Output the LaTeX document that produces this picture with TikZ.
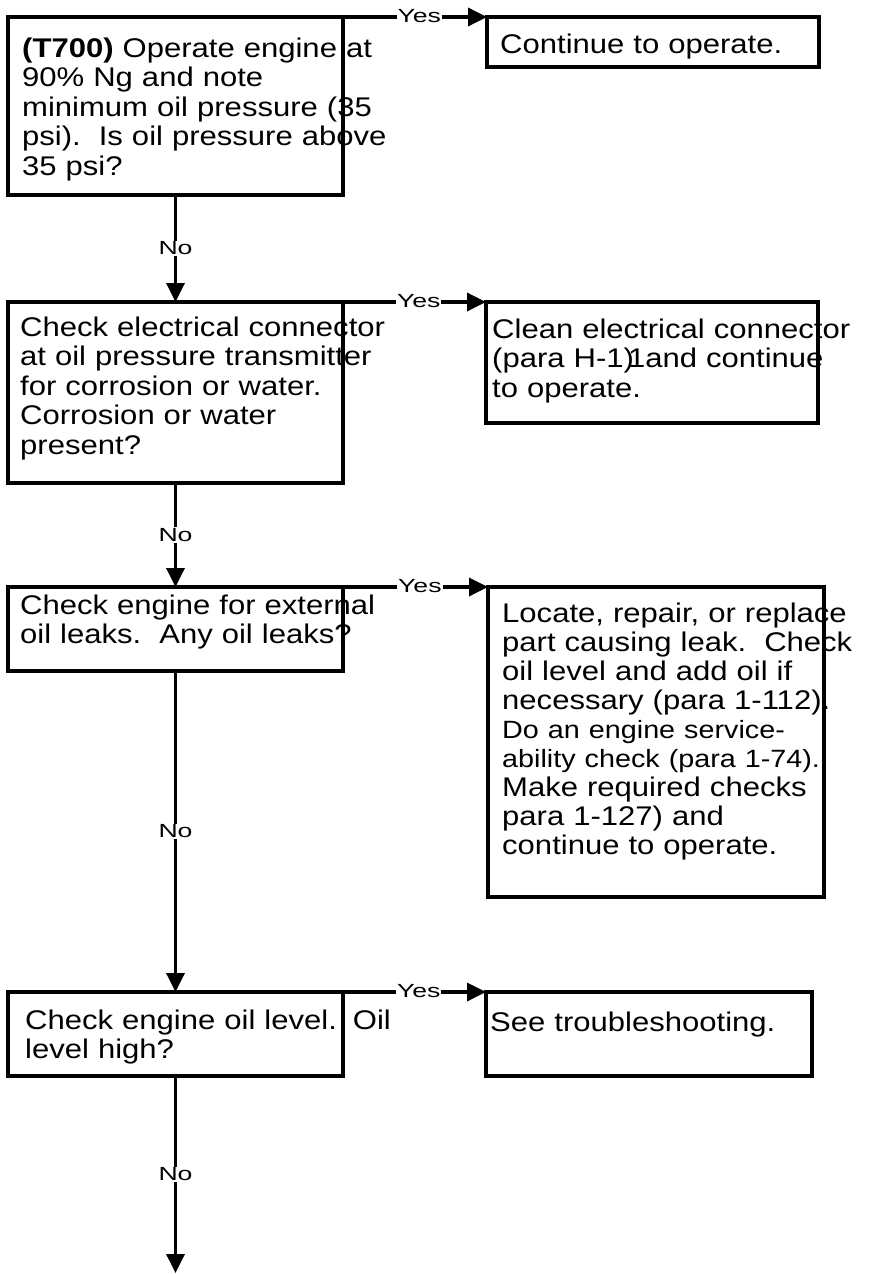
\documentclass[tikz,border=0pt]{standalone}
\usepackage{fontspec}
\setmainfont{Liberation Sans}[FakeStretch=1.15]
\newfontfamily\lblfont{Liberation Sans}[FakeStretch=1.4]
\usetikzlibrary{arrows.meta}
\frenchspacing

\tikzset{
    box/.style={draw, line width=3.5pt, rectangle, anchor=north west, inner sep=0pt, outer sep=0pt},
    txt/.style={anchor=base west, inner sep=0pt, align=left, text width=420pt,
        font=\fontsize{27}{29.5}\selectfont},
    flow/.style={line width=3.5pt, -{Triangle[length=19pt,width=18pt]}},
    lbl/.style={fill=white, inner sep=1pt, font=\lblfont\fontsize{19}{19}\selectfont}
}

\begin{document}
\begin{tikzpicture}[x=1pt,y=-1pt]
        \useasboundingbox (0,0) rectangle (869,1274);
        % boxes: questions on the left, answers on the right
            \foreach \n/\x/\y/\w/\h in {q1/8/17/335/178, a1/487/17/332/50,
                q2/8/302/335/181, a2/486/302/332/121,
                q3/8/587/335/84, a3/488/587/336/310,
                q4/8/992/335/84, a4/486/992/326/84}{
                \node[box, minimum width=\w pt, minimum height=\h pt] (\n) at (\x,\y) {};
            }
        % texts
            \node[txt] (t1) at ([shift={(14,40)}]q1.north west)
                {\textbf{(T700)} Operate engine at\\90\% Ng and note\\minimum oil pressure (35\\psi).\ \ Is oil pressure above\\35 psi?};
            \node[txt] (s1) at ([shift={(13,36)}]a1.north west) {Continue to operate.};
            \node[txt] (t2) at ([shift={(12,34)}]q2.north west)
                {Check electrical connector\\at oil pressure transmitter\\for corrosion or water.\\Corrosion or water\\present?};
            \node[txt] (s2) at ([shift={(6,36)}]a2.north west)
                {Clean electrical connector\\(para H-1)\kern-6pt1and continue\\to operate.};
            \node[txt] (t3) at ([shift={(12,27)}]q3.north west)
                {Check engine for external\\oil leaks.\ \ Any oil leaks?};
            \node[txt, font=\fontsize{27}{29}\selectfont] (s3) at ([shift={(14,35)}]a3.north west)
                {Locate, repair, or replace\\part causing leak.\ \ Check\\oil level and add oil if\\necessary (para 1-112).\\{\fontsize{25}{29}\selectfont Do an engine service-}\\{\fontsize{25}{29}\selectfont ability check (para 1-74).}\\Make required checks\\para 1-127) and\\continue to operate.};
            \node[txt] (t4) at ([shift={(17,37)}]q4.north west)
                {Check engine oil level.\hspace{16pt}Oil\\level high?};
            \node[txt] (s4) at ([shift={(4,39)}]a4.north west) {See troubleshooting.};
        % connectors
            \foreach \q/\a in {q1/a1,q2/a2,q3/a3,q4/a4}{
                \draw[flow] (\q.north east) -- node[lbl, pos=0.53, yshift=1pt] {Yes} (\a.north west);
            }
            \foreach \a/\b in {q1/q2,q2/q3,q3/q4}{
                \draw[flow] (\a) -- node[lbl] {No} (\b);
            }
            \coordinate (out) at (175.5,1273);
            \draw[flow] (q4) -- node[lbl] {No} (out);
        \end{tikzpicture}
\end{document}
